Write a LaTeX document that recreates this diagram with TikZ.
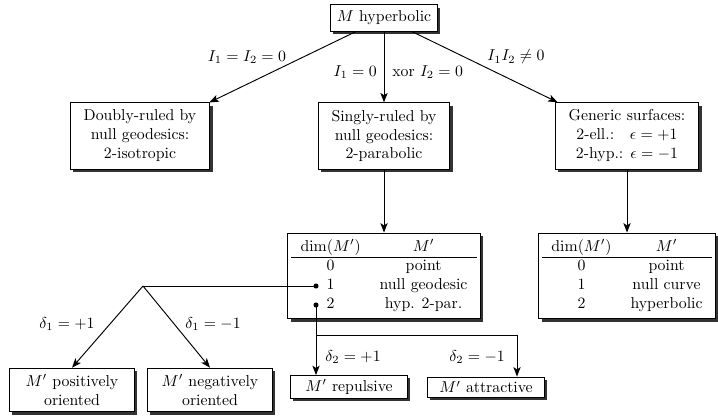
\documentclass[tikz,border=0pt]{standalone}
\usetikzlibrary{arrows.meta,shadows}
\begin{document}
\begin{tikzpicture}[x=0.633pt,y=-0.633pt,
  box/.style={draw, fill=white, line width=0.6pt,
    drop shadow={shadow xshift=1.8pt,shadow yshift=-1.8pt,fill=black,opacity=0.8},
    align=center, inner xsep=8.5pt, inner ysep=4.5pt},
  tbox/.style={box, inner xsep=2pt, inner ysep=3pt},
  obox/.style={box, minimum width=79pt, inner xsep=2pt, inner ysep=4pt},
  sbox/.style={box, minimum width=74pt, inner xsep=2pt, inner ysep=2.5pt},
  arr/.style={-{Stealth[length=6pt,width=4.6pt,inset=1.5pt]}, line width=0.6pt},
  ln/.style={line width=0.6pt},
  dot/.style={circle, fill=black, inner sep=0pt, minimum size=3.2pt}]
\useasboundingbox (0,0) rectangle (718,419);

% boxes
\node[box, inner xsep=4pt, inner ysep=3.8pt] (top) at (384,18) {$M$ hyperbolic};
\node[box] (dbl) at (140,136) {Doubly-ruled by\\ null geodesics:\\ 2-isotropic};
\node[box] (sgl) at (384,136) {Singly-ruled by\\ null geodesics:\\ 2-parabolic};
\node[box] (gen) at (627,136) {Generic surfaces:\\ 2-ell.:\quad$\epsilon=+1$\\ 2-hyp.: $\epsilon=-1$};
\node[tbox] (tabm) at (384,276) {\begin{tabular}{cc}
 $\dim(M')$ & $M'$\\ \hline
 0 & point\\
 1 & null geodesic\\
 2 & hyp. 2-par.
\end{tabular}};
\node[tbox] (tabr) at (627,276) {\begin{tabular}{cc}
 $\dim(M')$ & $M'$\\ \hline
 0 & point\\
 1 & null curve\\
 2 & hyperbolic
\end{tabular}};
\node[obox] (pos) at (72,390) {$M'$ positively\\ oriented};
\node[obox] (neg) at (210,390) {$M'$ negatively\\ oriented};
\node[sbox] (rep) at (349,387) {$M'$ repulsive};
\node[sbox] (att) at (486,387) {$M'$ attractive};

% top arrows
\draw[arr] (top) -- (dbl);
\draw[arr] (top) -- (sgl);
\draw[arr] (top) -- (gen);
\node (l1) at (247,57) {$I_1=I_2=0$};
\node[anchor=east, inner xsep=0pt] (l2) at (377,72) {$I_1=0$};
\node[anchor=west, inner xsep=0pt] (l3) at (392,72) {xor $I_2=0$};
\node (l4) at (516,57) {$I_1I_2\neq 0$};

\draw[arr] (sgl) -- (tabm);
\draw[arr] (gen) -- (tabr);

% branches from table rows
\node[dot] (r1) at (316,286) {};
\node[dot] (r2) at (316,305) {};
\coordinate (b1) at (143,286);
\draw[ln] (r1.center) -- (b1);
\draw[arr] (b1) -- (pos.north);
\draw[arr] (b1) -- (neg.north);
\node (d1) at (67,324) {$\delta_1=+1$};
\node (d2) at (213,324) {$\delta_1=-1$};

\coordinate (b2) at (316,335);
\coordinate (c2) at (517,335);
\draw[arr] (r2.center) -- (r2 |- rep.north);
\draw[arr] (b2) -- (c2) -- (c2 |- att.north);
\node (d3) at (353,357) {$\delta_2=+1$};
\node (d4) at (477,357) {$\delta_2=-1$};
\end{tikzpicture}
\end{document}
